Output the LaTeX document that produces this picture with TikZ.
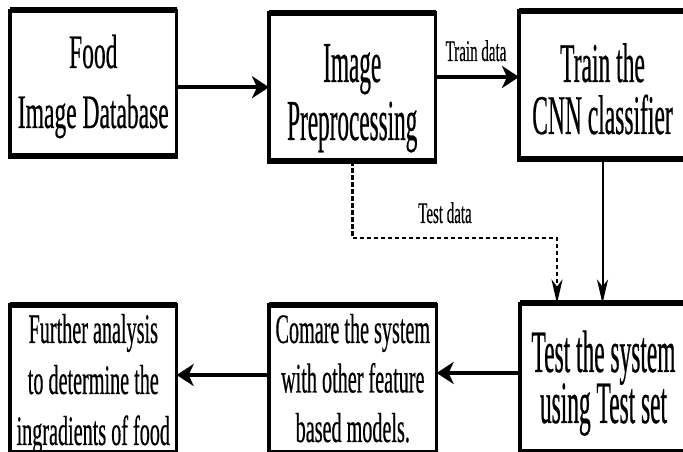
\documentclass[tikz,border=0pt]{standalone}
\usepackage{fontspec}
\usetikzlibrary{arrows.meta}
\setmainfont{Liberation Serif}
% condensed serif faces for the box texts and the connector labels
\newfontfamily\fa[FakeStretch=0.49, FakeBold=0.4]{Liberation Serif}
\newfontfamily\fb[FakeStretch=0.40, FakeBold=0.4]{Liberation Serif}
\newfontfamily\fc[FakeStretch=0.42, FakeBold=0.4]{Liberation Serif}
\newfontfamily\fd[FakeStretch=0.39, FakeBold=0.4]{Liberation Serif}
\newfontfamily\fe[FakeStretch=0.48, FakeBold=0.4]{Liberation Serif}
\newfontfamily\fl[FakeStretch=0.50, FakeBold=0.3]{Liberation Serif}
% centred lines stacked at exactly \baselineskip, baseline on the first line
\newcommand\boxlines[1]{\vtop{\lineskiplimit=-100pt\halign{\hfil##\hfil\cr#1\crcr}}}
\tikzset{
  boxframe/.style={draw, line width=3.4pt, rectangle, inner sep=0pt, outer sep=0pt,
    minimum width=167pt, minimum height=148.5pt, text height=0pt},
  edgebar/.style={line width=6pt, shorten <=-1.7pt, shorten >=-1.7pt},
  flowthick/.style={line width=4pt, -{Stealth[length=17pt, width=22pt, inset=5pt]}},
  flowthin/.style={line width=2pt, -{Stealth[length=24pt, width=11pt, inset=7pt]}},
  flowdash/.style={flowthin, line width=2.6pt, dash pattern=on 4.5pt off 2.5pt},
  lab/.style={inner sep=0pt, anchor=base, font=\fl\fontsize{30}{36}\selectfont}
}
\begin{document}
\begin{tikzpicture}[x=1pt, y=1pt]
\useasboundingbox (0,0) rectangle (683,452);

% upper row
\node[boxframe, minimum width=166.7pt, minimum height=146.2pt, text depth=30.8pt,
      font=\fa\fontsize{48}{60}\selectfont] (b1) at (93.3,368.6)
  {\boxlines{Food\cr Image Database}};
\node[boxframe, minimum width=166.5pt, text depth=10.5pt,
      font=\fb\fontsize{58}{58}\selectfont] (b2) at (352.25,364.75)
  {\boxlines{Image\cr Preprocessing}};
\node[boxframe, text depth=6.5pt,
      font=\fc\fontsize{56}{52}\selectfont] (b3) at (602.5,366.75)
  {\boxlines{Train the\cr CNN classifier}};

% lower row
\node[boxframe, minimum width=166.7pt, text depth=72.5pt,
      font=\fe\fontsize{42}{51}\selectfont] (b4) at (93.3,72.75)
  {\boxlines{Further analysis\cr to determine the\cr ingradients of food}};
\node[boxframe, minimum width=167.7pt, text depth=72.5pt,
      font=\fe\fontsize{42}{49.5}\selectfont] (b5) at (352.8,72.75)
  {\boxlines{Comare the system\cr with other feature\cr based models.}};
\node[boxframe, text depth=11.5pt,
      font=\fd\fontsize{60}{51}\selectfont] (b6) at (603.5,74.25)
  {\boxlines{Test the system\cr using Test set}};

% heavier top and bottom edges of the boxes
\foreach \n in {b1,b2,b3,b4,b5,b6}
  \draw[edgebar] (\n.north west) -- (\n.north east)
                 (\n.south west) -- (\n.south east);

% connectors
\draw[flowthick] (b1.east |- b2.west) -- (b2.west);
\draw[flowthick] ([yshift=10.25pt]b2.east) -- ([yshift=10.25pt]b2.east -| b3.west);
\node[lab] (ltrain) at (476,391) {Train data};

\draw[flowthin] (b3.south) -- (b3.south |- b6.north);

\coordinate (tbend) at (557,214);
\draw[flowdash] (b2.south) |- (tbend) -- (tbend |- b6.north);
\node[lab] (ltest) at (445,229) {Test data};

\draw[flowthick] ([yshift=4.75pt]b6.west) -- ([yshift=4.75pt]b6.west -| b5.east);
\draw[flowthick] ([yshift=4.25pt]b5.west) -- ([yshift=4.25pt]b5.west -| b4.east);
\end{tikzpicture}
\end{document}
